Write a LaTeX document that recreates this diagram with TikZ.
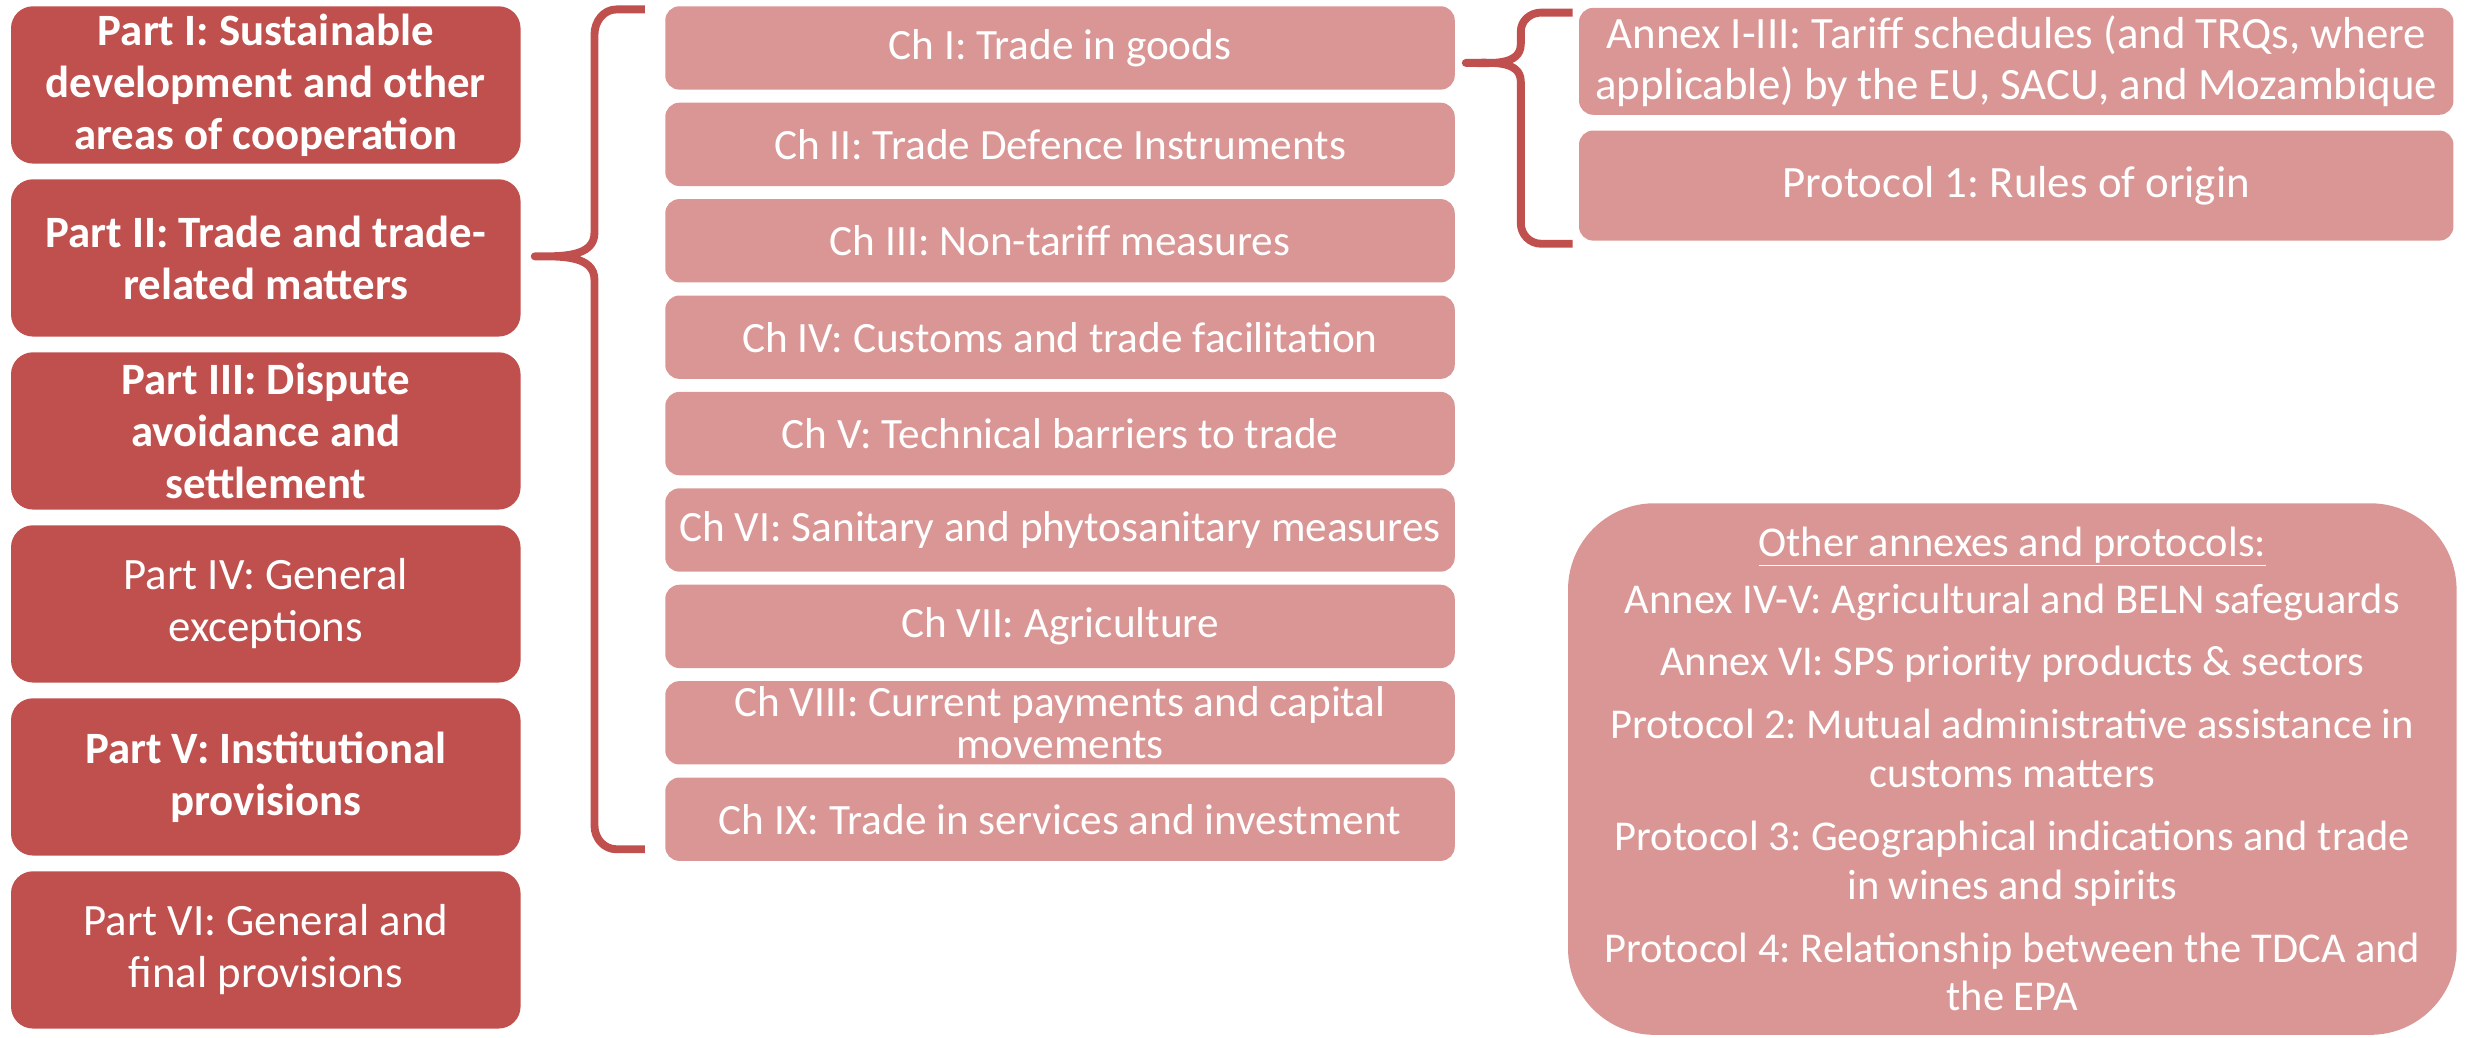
\documentclass[tikz,border=0pt]{standalone}
\usepackage{fontspec}
\setmainfont{Carlito}
\definecolor{dark}{RGB}{192,80,77}
\definecolor{light}{RGB}{217,150,148}
\begin{document}
\frenchspacing
\begin{tikzpicture}[x=1pt,y=-1pt,
  partbox/.style={fill=dark, rounded corners=14pt, text=white, minimum width=324pt, minimum height=100pt, align=center, inner sep=0pt, font=\fontsize{28.5}{33}\selectfont},
  chbox/.style={fill=light, rounded corners=9pt, text=white, minimum width=502pt, minimum height=53pt, align=center, inner sep=0pt, font=\fontsize{27.5}{27}\selectfont},
  annbox/.style={fill=light, rounded corners=9pt, text=white, minimum width=556pt, align=center, inner sep=0pt, font=\fontsize{28.5}{32}\selectfont},
  brace/.style={draw=dark, line width=5pt, line join=round}]
\useasboundingbox (0,0) rectangle (1568,660);
% Parts
\node[partbox] (p1) at (169,54) {\bfseries Part I: Sustainable\\\bfseries development and other\\\bfseries areas of cooperation};
\node[partbox] (p2) at (169,164) {\bfseries Part II: Trade and trade-\\\bfseries related matters};
\node[partbox] (p3) at (169,274) {\bfseries Part III: Dispute\\\bfseries avoidance and\\\bfseries settlement};
\node[partbox] (p4) at (169,384) {Part IV: General\\exceptions};
\node[partbox] (p5) at (169,494) {\bfseries Part V: Institutional\\\bfseries provisions};
\node[partbox] (p6) at (169,604) {Part VI: General and\\final provisions};
% Chapters
\node[chbox] (c1) at (674,30.5) {Ch I: Trade in goods};
\node[chbox] (c2) at (674,91.8) {Ch II: Trade Defence Instruments};
\node[chbox] (c3) at (674,153.1) {Ch III: Non-tariff measures};
\node[chbox] (c4) at (674,214.4) {Ch IV: Customs and trade facilitation};
\node[chbox] (c5) at (674,275.7) {Ch V: Technical barriers to trade};
\node[chbox] (c6) at (674,337) {Ch VI: Sanitary and phytosanitary measures};
\node[chbox] (c7) at (674,398.3) {Ch VII: Agriculture};
\node[chbox] (c8) at (674,459.6) {Ch VIII: Current payments and capital\\movements};
\node[chbox] (c9) at (674,520.9) {Ch IX: Trade in services and investment};
% Annexes
\node[annbox, minimum height=68pt] (a1) at (1282,39) {Annex I-III: Tariff schedules (and TRQs, where\\applicable) by the EU, SACU, and Mozambique};
\node[annbox, minimum height=70pt] (a2) at (1282,118) {Protocol 1: Rules of origin};
\node[fill=light, rounded corners=55pt, text=white, minimum width=565pt, minimum height=338pt, align=center, inner sep=0pt, font=\fontsize{27}{31}\selectfont] (oth) at (1279.5,489)
 {\underline{Other annexes and protocols:}\\[5pt]
  Annex IV-V: Agricultural and BELN safeguards\\[9pt]
  Annex VI: SPS priority products \& sectors\\[9pt]
  Protocol 2: Mutual administrative assistance in\\customs matters\\[9pt]
  Protocol 3: Geographical indications and trade\\in wines and spirits\\[9pt]
  Protocol 4: Relationship between the TDCA and\\the EPA};
% Braces
\coordinate (t1) at (340,163);
\draw[brace] (410,6) -- (392,6) to[out=180,in=90] (378,22) -- (378,148)
  to[out=-90,in=0] (t1) to[out=0,in=90] (378,178) -- (378,525)
  to[out=-90,in=180] (392,540) -- (410,540);
\coordinate (t2) at (932,40);
\draw[brace] (1000,8) -- (980,8) to[out=180,in=90] (967,20) -- (967,28)
  to[out=-90,in=0] (t2) to[out=0,in=90] (967,52) -- (967,142)
  to[out=-90,in=180] (980,155) -- (1000,155);
\end{tikzpicture}
\end{document}
